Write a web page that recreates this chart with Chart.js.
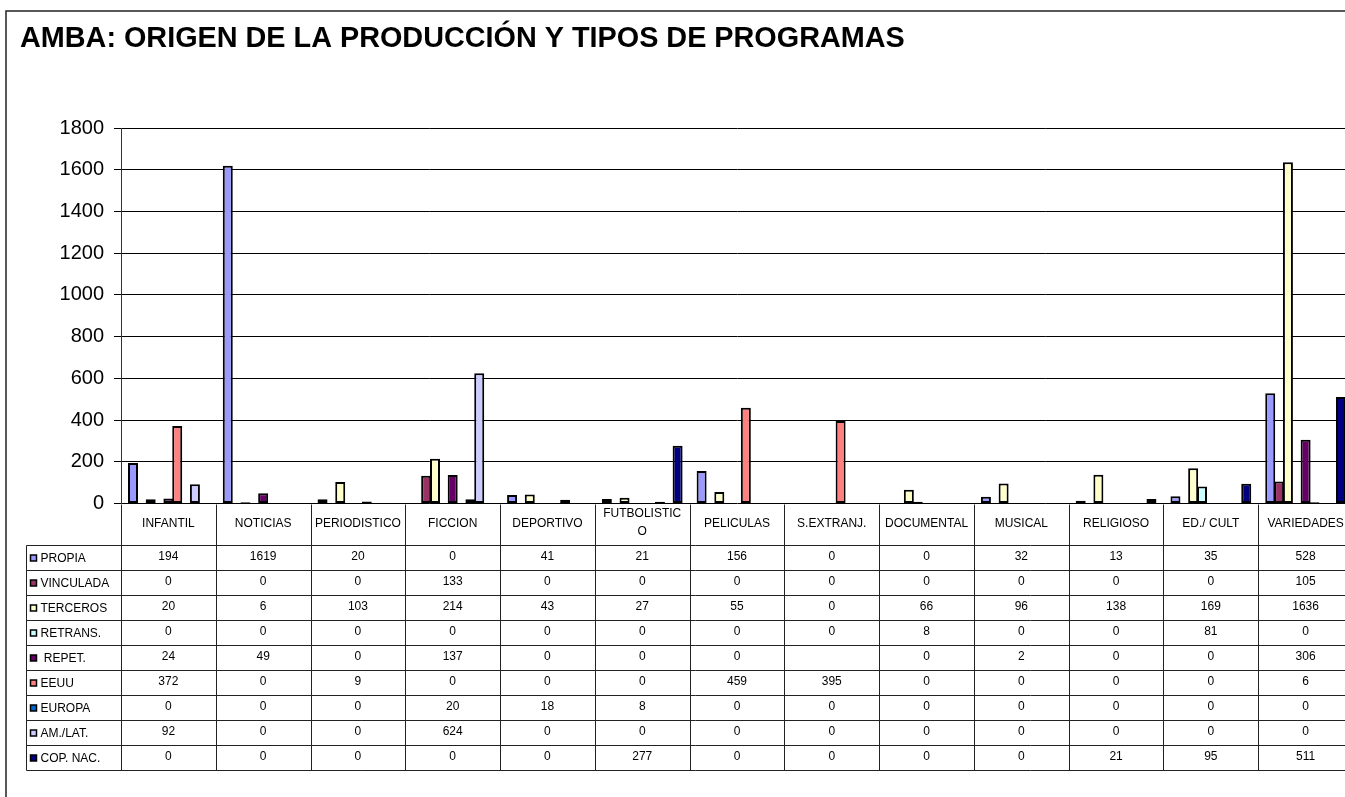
<!DOCTYPE html>
<html>
<head>
<meta charset="utf-8">
<script src="https://cdn.jsdelivr.net/npm/chart.js@4.4.1/dist/chart.umd.min.js"></script>
<style>
html,body{margin:0;padding:0;background:#fff;overflow:hidden;width:1345px;height:797px;}
#wrap{position:absolute;left:0;top:0;width:1365px;height:797px;}
</style>
</head>
<body>
<div id="wrap"><canvas id="c"></canvas></div>
<script>
const TITLE = "AMBA: ORIGEN DE LA PRODUCCIÓN Y TIPOS DE PROGRAMAS";
const categories = ["INFANTIL","NOTICIAS","PERIODISTICO","FICCION","DEPORTIVO",["FUTBOLISTIC","O"],"PELICULAS","S.EXTRANJ.","DOCUMENTAL","MUSICAL","RELIGIOSO","ED./ CULT","VARIEDADES"];
const seriesNames = ["PROPIA","VINCULADA","TERCEROS","RETRANS."," REPET.","EEUU","EUROPA","AM./LAT.","COP. NAC."];
const propia    = [194,1619,20,0,41,21,156,0,0,32,13,35,528];
const vinculada = [0,0,0,133,0,0,0,0,0,0,0,0,105];
const terceros  = [20,6,103,214,43,27,55,0,66,96,138,169,1636];
const retrans   = [0,0,0,0,0,0,0,0,8,0,0,81,0];
const repet     = [24,49,0,137,0,0,0,null,0,2,0,0,306];
const eeuu      = [372,0,9,0,0,0,459,395,0,0,0,0,6];
const europa    = [0,0,0,20,18,8,0,0,0,0,0,0,0];
const amlat     = [92,0,0,624,0,0,0,0,0,0,0,0,0];
const copnac    = [0,0,0,0,0,277,0,0,0,0,21,95,511];
const yTicks = [0,200,400,600,800,1000,1200,1400,1600,1800];
const colors = ["#9999FF","#993366","#FFFFCC","#CCFFFF","#660066","#FF8080","#0066CC","#CCCCFF","#000080"];
const seriesValues = [propia,vinculada,terceros,retrans,repet,eeuu,europa,amlat,copnac];

const FONT = '"Liberation Sans", Arial, sans-serif';

const datasets = seriesNames.map((n,i)=>({
  label:n.trim(),
  data:seriesValues[i],
  backgroundColor:colors[i],
  borderColor:'#000',
  borderWidth:2,
  borderSkipped:false,
  categoryPercentage:0.84,
  barPercentage:1.13
}));

const tablePlugin = {
  id:'tablePlugin',
  beforeDraw(chart){
    const ctx = chart.ctx;
    ctx.save();
    ctx.fillStyle='#fff';
    ctx.fillRect(0,0,chart.width,chart.height);
    ctx.restore();
  },
  afterDraw(chart){
    const ctx = chart.ctx;
    const ca = chart.chartArea;
    const xs = chart.scales.x;
    const n = categories.length;
    const cw = (ca.right-ca.left)/n;
    ctx.save();
    // frame
    ctx.strokeStyle='#222';
    ctx.lineWidth=1.5;
    ctx.beginPath();
    ctx.moveTo(6, chart.height+5);
    ctx.lineTo(6, 11);
    ctx.lineTo(chart.width+5, 11);
    ctx.stroke();
    // title
    ctx.fillStyle='#000';
    ctx.font='bold 28.8px '+FONT;
    ctx.textAlign='left';
    ctx.textBaseline='alphabetic';
    ctx.fillText(TITLE, 20, 47);

    // table
    const headTop = Math.round(ca.bottom)+0.5;
    const headBot = 545.5;
    const rowH = 25;
    const tableBot = headBot + rowH*seriesNames.length;
    const legL = 26.5;
    ctx.strokeStyle='#222';
    ctx.lineWidth=1;
    ctx.beginPath();
    for(let k=0;k<=seriesNames.length;k++){
      const y = headBot + k*rowH;
      ctx.moveTo(legL, y); ctx.lineTo(chart.width, y);
    }
    ctx.moveTo(legL, headBot); ctx.lineTo(legL, tableBot);
    for(let i=0;i<=n;i++){
      const x = Math.round(ca.left + i*cw)+0.5;
      ctx.moveTo(x, headTop); ctx.lineTo(x, tableBot);
    }
    ctx.stroke();

    ctx.fillStyle='#000';
    ctx.font='12px '+FONT;
    ctx.textAlign='center';
    ctx.textBaseline='middle';
    categories.forEach((c,i)=>{
      const cx = xs.getPixelForValue(i);
      if(Array.isArray(c)){
        ctx.fillText(c[0], cx, 514);
        ctx.fillText(c[1], cx, 532);
      } else {
        ctx.fillText(c, cx, 524);
      }
    });
    seriesNames.forEach((s,r)=>{
      const yc = headBot + r*rowH + rowH/2;
      seriesValues[r].forEach((v,i)=>{
        const cx = xs.getPixelForValue(i);
        ctx.fillStyle='#000';
        ctx.textAlign='center';
        if(v!==null) ctx.fillText(String(v), cx, yc-1);
      });
      // legend key
      ctx.fillStyle=colors[r];
      ctx.fillRect(30.5, yc-3, 6, 6);
      ctx.strokeStyle='#000';
      ctx.lineWidth=1.5;
      ctx.strokeRect(30.5, yc-3, 6, 6);
      ctx.fillStyle='#000';
      ctx.textAlign='left';
      ctx.fillText(s, 40.5, yc+1);
    });
    ctx.restore();
  }
};

new Chart(document.getElementById('c'), {
  type:'bar',
  data:{labels:categories.map(c=>Array.isArray(c)?c.join(''):c), datasets},
  options:{
    responsive:true,
    maintainAspectRatio:false,
    animation:false,
    layout:{padding:{top:128,left:0,right:12,bottom:293.5}},
    plugins:{legend:{display:false},tooltip:{enabled:false},title:{display:false}},
    scales:{
      x:{display:false},
      y:{
        min:0,max:1800,
        afterFit(s){ s.width = 121; },
        afterBuildTicks(s){ s.ticks = yTicks.map(v=>({value:v})); },
        ticks:{color:'#000',font:{family:FONT,size:20},padding:10,callback:(v)=>String(v)},
        grid:{color:'#000',lineWidth:1,tickLength:7,drawTicks:true},
        border:{color:'#333',width:1}
      }
    }
  },
  plugins:[tablePlugin]
});
</script>
</body>
</html>
